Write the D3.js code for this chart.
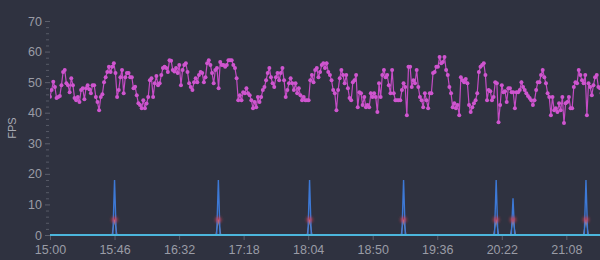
<!DOCTYPE html>
<html>
<head>
<meta charset="utf-8">
<script src="https://cdn.jsdelivr.net/npm/d3@7"></script>
<style>
  html, body { margin: 0; padding: 0; background: #2f3240; }
  svg { display: block; }
</style>
</head>
<body>
<script>
// samples start at 15:00, one every 70 seconds
var sampleStart = "15:00";
var sampleStepSec = 70;

var fpsValues = [
  45.2, 47.4, 50.1, 48.4, 44.8, 45.1, 45.5, 49, 53.3, 54, 49.6, 49, 46.7, 51.3, 49, 44.8, 44.1, 45.1, 43.5, 47.4,
  48, 44.4, 48, 49, 47.7, 46.4, 49, 49, 45.1, 43.5, 40.8, 45.1, 46, 50, 51.6, 53.3, 55, 53.3, 55, 56.2,
  53, 45.1, 47.4, 51.6, 54, 46.4, 51.6, 53, 53, 51.6, 51.6, 48, 48.5, 45.7, 43.1, 42.5, 41.5, 44.1, 41.5, 43,
  45.1, 50.6, 51.3, 45.1, 49.6, 52, 49, 49.6, 52.3, 54.6, 55, 54.6, 53.3, 57.2, 57, 54, 53.5, 54.6, 53, 55.6,
  49, 54,
  55.6, 56.2, 53.3, 49.6, 48.4, 47.4, 50, 51.3, 50, 52.3, 53.3, 53, 50, 51.6, 56.2, 57.2, 55.6, 53, 49.6, 54,
  54.6, 48, 56.6, 55.6, 55.6, 55, 55.6, 57.2, 57.2, 57.2, 55.6, 54.6, 51.3, 44.1, 45.7, 44.1, 46.7, 46.4, 48, 46.4,
  45.7, 44.1, 41.5, 43.5, 41.8, 45.1, 43.5, 45.1, 47.4, 48.4, 50.6, 53, 54.6, 51.6, 49.6, 48.4, 51.6, 53, 50.6, 53,
  54.6, 50.6, 45.1, 47.4, 49.6, 51.3, 49.6, 47.4, 49.6, 46.4, 48, 45.7, 44.1, 45.1, 44.1, 44.1, 44.1, 50.6, 52.3, 50,
  54, 54.6, 51.6, 53.3, 55.6, 56.2, 54.6, 56.2, 53.3, 52.3, 50.6, 47.4,
  46.4, 40.8, 47.4, 51.3, 54, 52.3, 49.6, 52.3, 48, 44.8, 44.1, 50, 50.6, 52.3, 41.8, 46.7, 46.4, 42.5, 45.1, 41.8,
  42.5, 41.8, 46.4, 45.1, 46.4, 45.1, 40.2, 49.6, 45.1, 52.3, 54, 51.6, 52.3, 49, 46.4, 54, 46.4, 44.1, 44.1, 44.1,
  44.1, 47.4, 49.6, 48.4, 39.2, 55, 55, 48.4, 50.6, 49.6, 54, 48.4, 45.1, 44.1, 41.8, 46.4, 44.1, 41.5, 46.4, 46.4,
  53, 53.3, 55, 55, 58.2, 56.2, 56.6, 58.2, 54, 52.3, 48.4, 46.4, 41.8, 43.1, 41.5, 42.5, 39.2, 51.6, 50.6, 50,
  51, 49.6, 42.5, 40.2, 41.8, 43.1, 44.1, 46.4,
  53.3, 55, 55.6, 56.2, 52.3, 44.1, 47.4, 47, 44.1, 45.1, 50, 49.6, 36.9, 42.5, 49, 46.7, 47, 43.5, 48, 48,
  46.7, 46.7, 41.5, 46.7, 46.7, 47.4, 50, 48.4, 47.4, 46.4, 45.5, 44.8, 44.1, 42.5, 44.1, 47.4, 50, 50, 52.3, 54,
  51.6, 49.6, 46.4, 45.1, 39.2, 45.1, 40.8, 41.5, 40.2, 43.1, 40.8, 45.1, 36.6, 43.1, 43.5, 45.1, 41.5, 41.5, 48.4, 50,
  49.6, 54, 52.3, 50.6, 49.6, 52.3, 39.2, 49.6, 48.4, 45.7, 49, 51.6, 52.3, 48.4, 48, 46.4
];

// short spikes of the other counters
var spikeTimes = ["15:46", "17:00", "18:05", "19:12", "20:18", "20:30", "21:22"];
var spikeHighValues = [18, 18, 18, 18, 18, 12, 18];
var spikeLowValues = [5, 5, 5, 5, 5, 5, 5];

var xTickLabels = ["15:00", "15:46", "16:32", "17:18", "18:04", "18:50", "19:36", "20:22", "21:08"];
var yTickValues = [0, 10, 20, 30, 40, 50, 60, 70];
var yMinorTicks = [2, 4, 6, 8, 12, 14, 16, 18, 22, 24, 26, 28, 32, 34, 36, 38, 42, 44, 46, 48, 52, 54, 56, 58, 62, 64, 66, 68];

var w = 600;
var h = 260;
var margin = {top: 21, right: 0, bottom: 25, left: 50};

var parseTime = d3.timeParse("%H:%M");
var t0 = parseTime(sampleStart);
var tEnd = parseTime("21:32");

var fpsData = fpsValues.map(function(v, i) {
    return {t: new Date(t0.getTime() + i * sampleStepSec * 1000), v: v};
});

var x = d3.scaleTime()
    .domain([t0, tEnd])
    .range([margin.left, w - margin.right]);

var y = d3.scaleLinear()
    .domain([0, 70])
    .range([h - margin.bottom, margin.top]);

var svg = d3.select("body").append("svg")
    .attr("width", w)
    .attr("height", h)
    .style("background-color", "#2f3240")
    .style("font-family", "'Liberation Sans', Arial, sans-serif");

svg.append("defs").append("filter")
    .attr("id", "glow")
    .attr("x", "-2").attr("y", "-2").attr("width", "5").attr("height", "5")
    .append("feGaussianBlur")
    .attr("stdDeviation", 1.6);

svg.append("clipPath").attr("id", "plot")
    .append("rect")
    .attr("x", margin.left).attr("y", 0)
    .attr("width", w - margin.left - margin.right).attr("height", h - margin.bottom + 2);

// y axis, minor ticks first
var yMinor = svg.append("g")
    .attr("transform", "translate(" + (margin.left - 1) + ",0)")
    .call(d3.axisLeft(y).tickValues(yMinorTicks).tickSize(3).tickFormat(""));
yMinor.select(".domain").remove();
yMinor.selectAll("line").attr("stroke", "#575a66");

var yAxis = svg.append("g")
    .attr("transform", "translate(" + margin.left + ",0)")
    .call(d3.axisLeft(y).tickValues(yTickValues).tickSize(5).tickPadding(3));
yAxis.select(".domain").remove();
yAxis.selectAll("line").attr("stroke", "#5c5f6b");
yAxis.selectAll("text")
    .attr("fill", "#9a9ca6")
    .style("font-size", "12.5px");

svg.append("text")
    .text("FPS")
    .attr("transform", "translate(16," + ((margin.top + h - margin.bottom) / 2) + ") rotate(-90)")
    .attr("text-anchor", "middle")
    .attr("fill", "#a9abb4")
    .style("font-size", "11px");

// x axis
var xAxis = svg.append("g")
    .attr("transform", "translate(0," + y(0) + ")")
    .call(d3.axisBottom(x)
        .tickValues(xTickLabels.map(parseTime))
        .tickFormat(d3.timeFormat("%H:%M"))
        .tickSize(5)
        .tickPadding(5));
xAxis.select(".domain").remove();
xAxis.selectAll("line").attr("stroke", "#5c5f6b");
xAxis.selectAll("text")
    .attr("fill", "#9a9ca6")
    .style("font-size", "12.5px");

var plot = svg.append("g").attr("clip-path", "url(#plot)");

// spikes
var spikeLine = d3.line()
    .x(function(d) { return x(d.t); })
    .y(function(d) { return y(d.v); });

function spikePoints(time, value, halfMin) {
    var t = parseTime(time);
    return [
        {t: new Date(t.getTime() - halfMin * 60000), v: 0},
        {t: t, v: value},
        {t: new Date(t.getTime() + halfMin * 60000), v: 0}
    ];
}

spikeTimes.forEach(function(time, i) {
    plot.append("path")
        .attr("d", spikeLine(spikePoints(time, spikeLowValues[i], 1.8)))
        .attr("fill", "none")
        .attr("stroke", "#b9b3c4")
        .attr("stroke-opacity", 0.75)
        .attr("stroke-width", 1);

    plot.append("path")
        .attr("d", spikeLine(spikePoints(time, spikeHighValues[i], 1.2)))
        .attr("fill", "none")
        .attr("stroke", "#3d79d6")
        .attr("stroke-width", 1.4);

    plot.append("circle")
        .attr("cx", x(parseTime(time)))
        .attr("cy", y(spikeLowValues[i]))
        .attr("r", 3)
        .attr("fill", "#d8404f")
        .attr("fill-opacity", 0.8)
        .attr("filter", "url(#glow)");
});

// zero line
plot.append("path")
    .attr("d", spikeLine([{t: t0, v: 0}, {t: tEnd, v: 0}]))
    .attr("stroke", "#4cb6dc")
    .attr("stroke-width", 2);

// fps
var fpsLine = d3.line()
    .x(function(d) { return x(d.t); })
    .y(function(d) { return y(d.v); });

plot.append("path")
    .datum(fpsData)
    .attr("d", fpsLine)
    .attr("fill", "none")
    .attr("stroke", "#c44cc4")
    .attr("stroke-width", 1.2);

plot.selectAll("circle.fps")
    .data(fpsData)
    .enter()
    .append("circle")
    .attr("class", "fps")
    .attr("cx", function(d) { return x(d.t); })
    .attr("cy", function(d) { return y(d.v); })
    .attr("r", 2)
    .attr("fill", "#cf55cf");
</script>
</body>
</html>
